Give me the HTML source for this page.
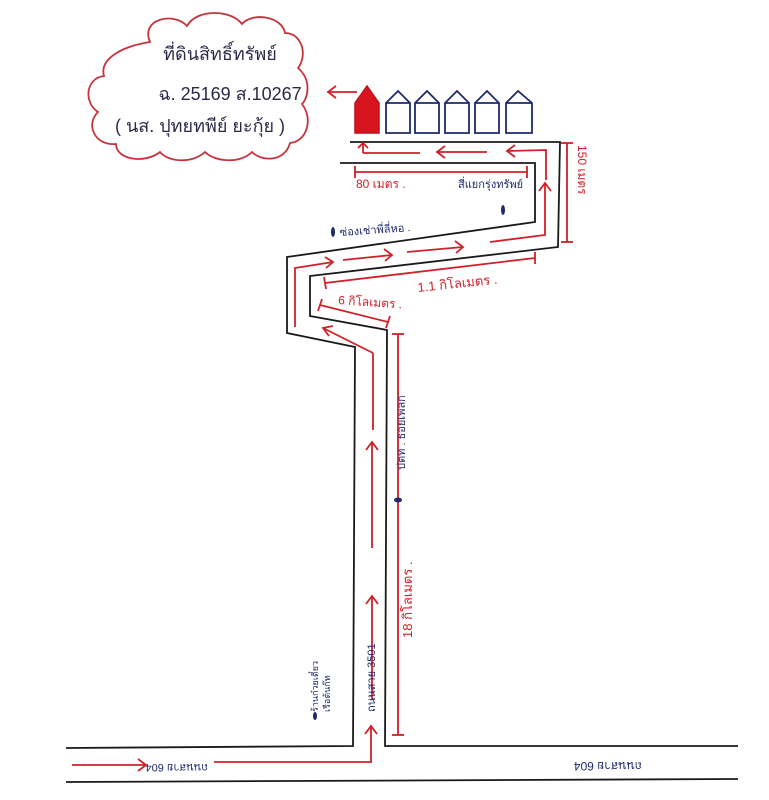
<!DOCTYPE html>
<html><head><meta charset="utf-8"><style>
html,body{margin:0;padding:0;background:#fff}
svg{display:block}
text{font-family:"Liberation Sans","DejaVu Sans",sans-serif}
</style></head><body>
<svg width="769" height="800" viewBox="0 0 769 800" xmlns="http://www.w3.org/2000/svg">
<rect width="769" height="800" fill="#fff"/>
<path d="M150,42 C140,18 175,12 187,26 C197,8 232,10 242,24 C252,12 282,16 285,33 C302,33 308,55 298,68 C312,80 308,98 302,104 C314,120 306,142 290,143 C285,162 262,162 252,152 C240,164 215,162 205,152 C192,164 168,162 160,152 C145,164 116,160 116,144 C95,146 85,125 98,112 C83,102 86,78 104,76 C99,58 124,46 150,42 Z" fill="none" stroke="#c8323a" stroke-width="1.8"/>
<text x="220" y="60" font-size="18" fill="#2a2a4a" text-anchor="middle">ที่ดินสิทธิ์ทรัพย์</text>
<text x="230" y="100" font-size="18" fill="#2a2a4a" text-anchor="middle">ฉ. 25169 ส.10267</text>
<text x="200" y="132" font-size="18" fill="#2a2a4a" text-anchor="middle">( นส. ปุทยทพีย์  ยะกุ้ย )</text>
<g stroke="#d0202a" stroke-width="1.8" fill="none">
<line x1="357" y1="92" x2="328" y2="92"/><polyline points="336,86 328,92 336,98"/>
</g>
<path d="M355,133 V103 L367,86 L379,103 V133 Z" fill="#d8141e" stroke="#c01018" stroke-width="1.5"/>
<g fill="none" stroke="#1f2a6b" stroke-width="1.8">
<path d="M386,133 V103 L398,91 L410,103 V133 Z M386,103 H410"/>
<path d="M415,133 V103 L427,91 L439,103 V133 Z M415,103 H439"/>
<path d="M445,133 V103 L457,91 L469,103 V133 Z M445,103 H469"/>
<path d="M475,133 V103 L487,91 L499,103 V133 Z M475,103 H499"/>
<path d="M506,133 V103 L518,91 L532,103 V133 Z M506,103 H532"/>
</g>
<g fill="none" stroke="#1a1a1a" stroke-width="1.8">
<polyline points="350,142 560,142 558,247 310,276 310,316 387,330 385,746 738,746"/>
<polyline points="340,163 535,163 535,222 287,257 287,333 355,347 353,746 66,748"/>
<line x1="66" y1="782" x2="738" y2="779"/>
</g>
<g fill="none" stroke="#d0202a" stroke-width="1.8">
<line x1="72" y1="765" x2="146" y2="765"/><polyline points="138,759 146,765 138,771"/>
<polyline points="214,762 371,762 371,726"/><polyline points="365,734 371,726 377,734"/>
<line x1="372" y1="700" x2="372" y2="596"/><polyline points="366,604 372,596 378,604"/>
<line x1="372" y1="548" x2="372" y2="442"/><polyline points="366,450 372,442 378,450"/>
<line x1="373" y1="430" x2="373" y2="353" />
<line x1="373" y1="353" x2="323" y2="328"/><polyline points="333,326 323,328 329,336"/>
<polyline points="295,327 295,268 333,262"/><polyline points="325,257 333,262 326,268"/>
<line x1="343" y1="260" x2="392" y2="255"/><polyline points="384,249 392,255 385,261"/>
<line x1="407" y1="252" x2="463" y2="247"/><polyline points="455,241 463,247 456,253"/>
<polyline points="490,242 545,235 545,183"/><polyline points="539,191 545,183 551,191"/>
<polyline points="546,180 546,150 507,151"/><polyline points="515,145 507,151 515,157"/>
<line x1="487" y1="152" x2="437" y2="152"/><polyline points="445,146 437,152 445,158"/>
<line x1="420" y1="153" x2="363" y2="153"/><polyline points="358,148 363,143 368,148"/><line x1="363" y1="143" x2="363" y2="153"/>
<line x1="355" y1="172" x2="527" y2="172"/><line x1="355" y1="166" x2="355" y2="178"/><line x1="527" y1="166" x2="527" y2="178"/>
<line x1="567" y1="143" x2="567" y2="242"/><line x1="561" y1="143" x2="573" y2="143"/><line x1="561" y1="242" x2="573" y2="242"/>
<line x1="325" y1="283" x2="535" y2="258"/><line x1="324" y1="277" x2="326" y2="289"/><line x1="535" y1="252" x2="535" y2="264"/>
<line x1="320" y1="305" x2="388" y2="322"/><line x1="322" y1="299" x2="318" y2="311"/><line x1="390" y1="316" x2="386" y2="328"/>
<line x1="398" y1="334" x2="398" y2="735"/><line x1="392" y1="334" x2="404" y2="334"/><line x1="392" y1="735" x2="404" y2="735"/>
</g>
<g fill="#d0202a" font-size="12">
<text x="356" y="188">80 เมตร .</text>
<text transform="translate(578,145) rotate(90)">150 เมตร</text>
<text transform="translate(418,292) rotate(-6)" font-size="13">1.1  กิโลเมตร .</text>
<text transform="translate(338,304) rotate(4)">6 กิโลเมตร .</text>
<text transform="translate(412,638) rotate(-90)" font-size="13">18  กิโลเมตร .</text>
</g>
<g fill="#1f2a6b" font-size="11">
<text x="458" y="188">สี่แยกรุ่งทรัพย์</text>
<text transform="translate(340,236) rotate(-4)">ซ่องเช่าพี่ลี่หอ .</text>
<text transform="translate(405,470) rotate(-90)">ปตท . ธอยเพลก</text>
<text transform="translate(375,712) rotate(-90)">ถนนสาย  3501</text>
<text transform="translate(318,712) rotate(-90)" font-size="9">ร้านก๋วยเตี๋ยว</text>
<text transform="translate(330,712) rotate(-90)" font-size="9">เรือต้นก๊ท</text>
<text transform="translate(208,764) rotate(180)" font-size="11">ถนนสาย 604</text>
<text transform="translate(642,762) rotate(180)" font-size="12">ถนนสาย 604</text>
</g>
<g fill="#1f2a6b">
<ellipse cx="503" cy="210" rx="2" ry="5"/>
<ellipse cx="333" cy="232" rx="2" ry="5"/>
<ellipse cx="398" cy="500" rx="4" ry="2.5"/>
<ellipse cx="315" cy="716" rx="2" ry="4"/>
</g>
</svg>
</body></html>
